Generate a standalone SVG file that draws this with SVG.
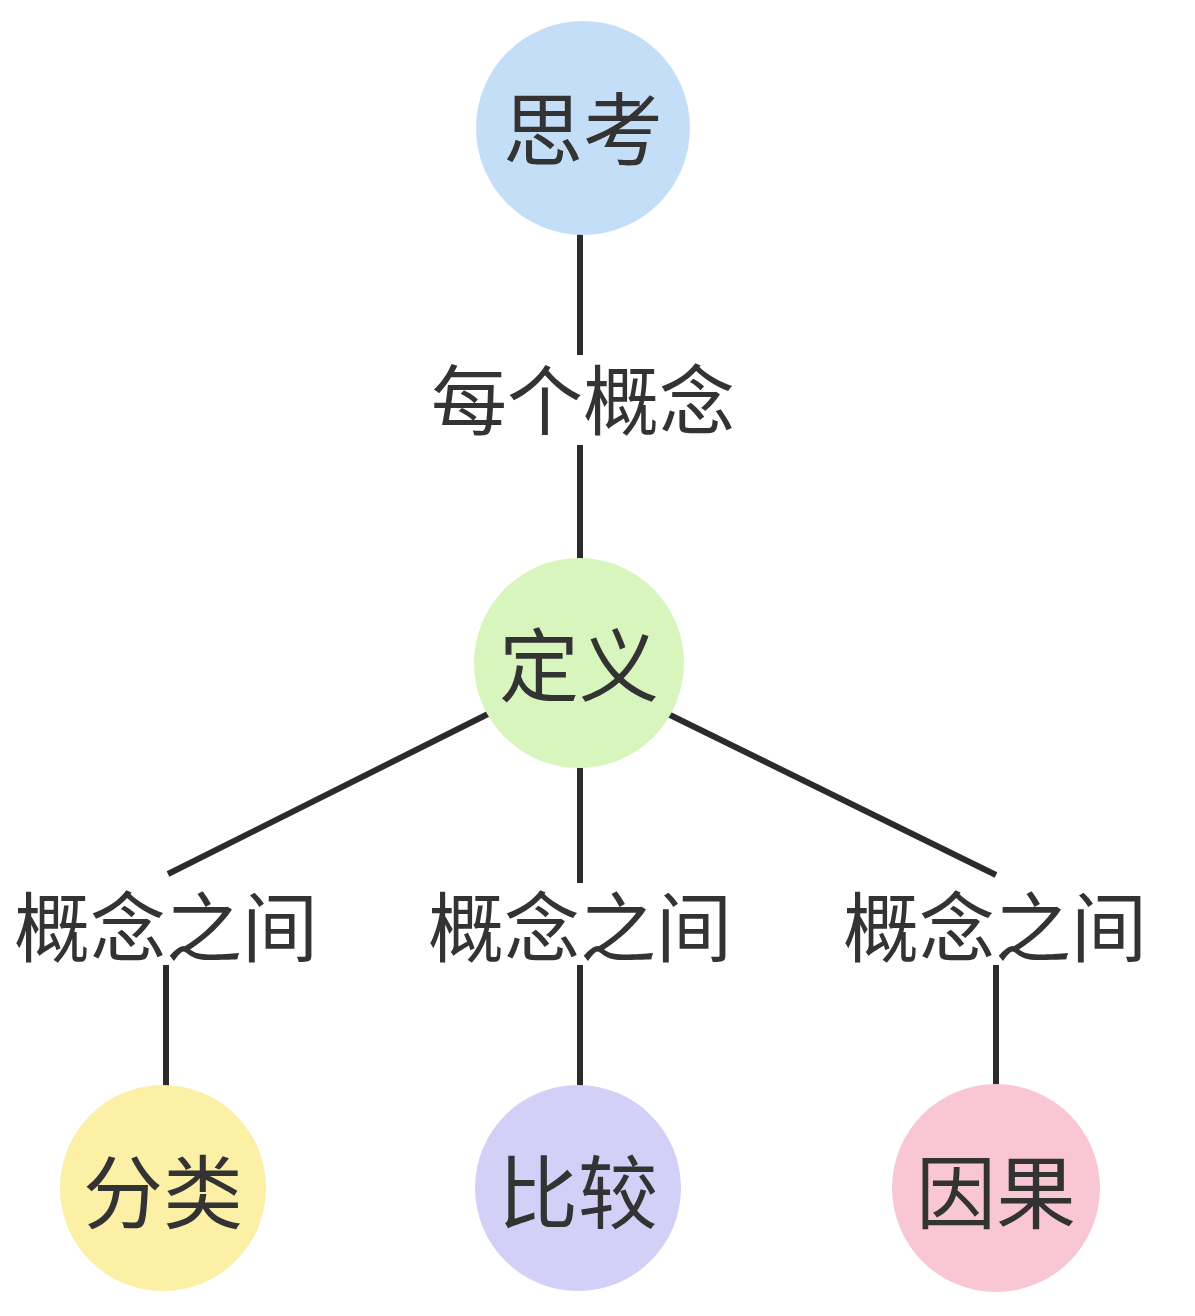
<svg xmlns="http://www.w3.org/2000/svg" width="1195" height="1316" viewBox="0 0 1195 1316">
<style>
.t{font-family:"Noto Sans CJK SC","Noto Sans",sans-serif;fill:#333;text-anchor:middle;dominant-baseline:central}
.n{font-size:80px}
.l{font-size:76px}
.e{stroke:#2b2b2b;stroke-width:6;fill:none}
</style>
<rect width="1195" height="1316" fill="#fff"/>
<g id="connectors">
<line class="e" x1="580" y1="232" x2="580" y2="355"/>
<line class="e" x1="580" y1="445" x2="580" y2="560"/>
<text class="t l" x="583" y="396">每个概念</text>
<line class="e" x1="488" y1="714" x2="168" y2="874"/>
<line class="e" x1="166" y1="965" x2="166" y2="1087"/>
<text class="t l" x="166" y="923">概念之间</text>
<line class="e" x1="580" y1="768" x2="580" y2="883"/>
<line class="e" x1="580" y1="965" x2="580" y2="1087"/>
<text class="t l" x="580" y="923">概念之间</text>
<line class="e" x1="668" y1="714" x2="996" y2="875"/>
<line class="e" x1="996" y1="965" x2="996" y2="1087"/>
<text class="t l" x="995" y="923">概念之间</text>
</g>
<g id="n1"><circle cx="583" cy="128" r="107" fill="#c5def8"/><text class="t n" x="583" y="124">思考</text></g>
<g id="n2"><circle cx="579" cy="663" r="105" fill="#d7f5bc"/><text class="t n" x="579" y="660">定义</text></g>
<g id="n3"><circle cx="163" cy="1188" r="103" fill="#fcefa6"/><text class="t n" x="163" y="1187">分类</text></g>
<g id="n4"><circle cx="578" cy="1188" r="103" fill="#d3d0f8"/><text class="t n" x="578" y="1187">比较</text></g>
<g id="n5"><circle cx="996" cy="1188" r="104" fill="#f9c6d3"/><text class="t n" x="996" y="1187">因果</text></g>
</svg>
